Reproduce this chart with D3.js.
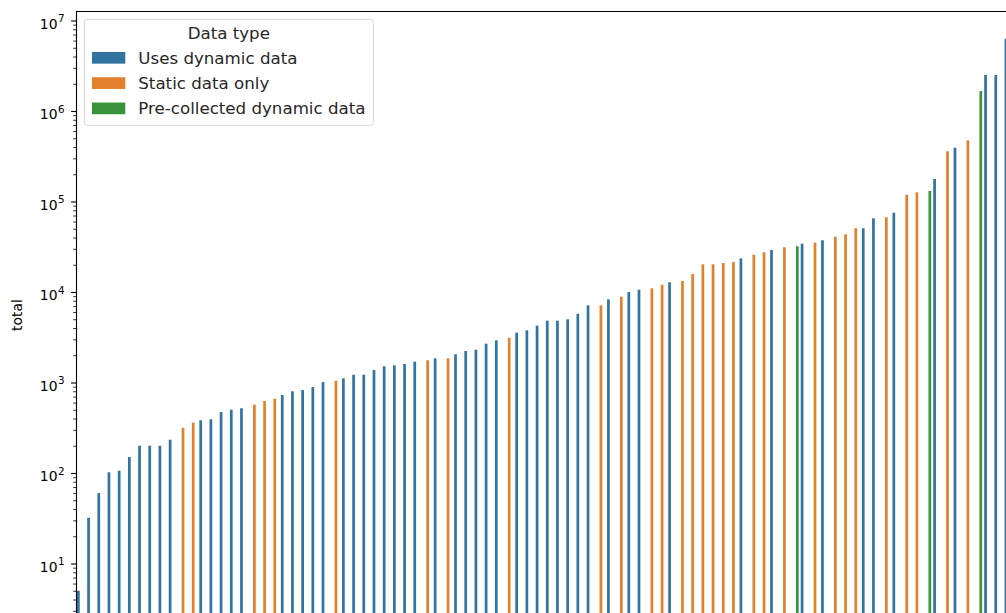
<!DOCTYPE html>
<html>
  <head>
    <meta charset="utf-8">
    <title>Totals by data type</title>
    <script src="https://d3js.org/d3.v7.min.js"></script>
    <style>
      body { margin: 0; overflow: hidden; background: #fff; }
      svg { display: block; font-family: "DejaVu Sans", sans-serif; }
    </style>
  </head>
  <body>

    <div id="chart"></div>

    <script>

      // one bar per project, already sorted by total (x labels are cut off in the crop)
      const totals = [
        5, 32, 60, 102, 106, 150, 200, 200, 200, 233,
        316, 360, 382, 392, 472, 501, 519, 569, 625, 661,
        727, 800, 826, 891, 1010, 1047, 1112, 1219, 1220, 1374,
        1510, 1549, 1600, 1698, 1760, 1850, 1850, 2050, 2230, 2300,
        2685, 2925, 3125, 3550, 3775, 4250, 4820, 4820, 4990, 5750,
        7120, 7120, 8300, 8870, 9990, 10600, 10990, 12050, 12800, 13240,
        15800, 20240, 20240, 20900, 21400, 23500, 25800, 27460, 29130, 31170,
        32000, 34170, 35080, 37260, 40830, 43420, 50610, 50610, 65200, 66860,
        75160, 118800, 126400, 130600, 177400, 359000, 393000, 474000, 1660000, 2500000,
        2500000, 6300000
      ];
      // D = uses dynamic data, S = static data only, P = pre-collected dynamic data
      const dataTypes = [
        'D','D','D','D','D','D','D','D','D','D',
        'S','S','D','D','D','D','D','S','S','S',
        'D','D','D','D','D','S','D','D','D','D',
        'D','D','D','D','S','D','S','D','D','D',
        'D','D','S','D','D','D','D','D','D','D',
        'D','S','D','S','D','D','S','S','D','S',
        'S','S','S','S','S','D','S','S','D','S',
        'P','D','S','D','S','S','S','D','D','S',
        'D','S','S','P','D','S','D','S','P','D',
        'D','D'
      ];
      const typeKeys = ['D', 'S', 'P'];
      const typeLabels = ['Uses dynamic data', 'Static data only', 'Pre-collected dynamic data'];
      const typeColors = ['#3274a1', '#e1812c', '#3a923a'];
      const tickExps = [1, 2, 3, 4, 5, 6, 7];
      const yLabel = 'total';
      const legendTitle = 'Data type';

      const width = 1006;
      const height = 613;
      const margin = { left: 76, top: 11 };
      const axisBottom = 619;      // bottom spine is just below the visible area
      const step = 10.193;         // px per category

      const svg = d3.select('#chart').append('svg')
          .attr('width', width)
          .attr('height', height);

      const xScale = d3.scaleBand()
        .domain(d3.range(totals.length))
        .range([margin.left, margin.left + step * totals.length]);

      // seaborn dodge: 3 hue slots inside 0.8 of the category width
      const hueScale = d3.scaleBand()
        .domain(typeKeys)
        .range([0, xScale.bandwidth()])
        .paddingOuter(0.375);

      const yScale = d3.scaleLog()
        .domain([10, 1e7])
        .range([563.5, 20.5]);

      const colorScale = d3.scaleOrdinal()
        .domain(typeKeys)
        .range(typeColors);

      svg.append('clipPath').attr('id', 'plot-clip')
        .append('rect')
          .attr('x', margin.left)
          .attr('y', margin.top)
          .attr('width', width)
          .attr('height', axisBottom - margin.top);

      const plot = svg.append('g').attr('clip-path', 'url(#plot-clip)');

      plot.selectAll('rect.bar')
        .data(totals)
        .join('rect')
          .attr('class', 'bar')
          .attr('x', (d, i) => xScale(i) + hueScale(dataTypes[i]))
          .attr('y', d => yScale(d))
          .attr('width', hueScale.bandwidth())
          .attr('height', d => axisBottom - yScale(d))
          .attr('fill', (d, i) => colorScale(dataTypes[i]));

      // minor ticks 2..9 x 10^k that fall inside the axes
      const yMin = yScale.invert(axisBottom);
      const minorTicks = [];
      d3.range(0, 7).forEach(k => {
        d3.range(2, 10).forEach(m => {
          const v = m * Math.pow(10, k);
          if (v >= yMin && v <= 1e7) minorTicks.push(v);
        });
      });

      const minorAxisG = svg.append('g')
        .attr('transform', `translate(${margin.left},0)`)
        .call(d3.axisLeft(yScale).tickValues(minorTicks).tickSize(2.8).tickFormat(''));
      minorAxisG.select('.domain').remove();
      minorAxisG.selectAll('line').attr('stroke', '#000').attr('stroke-width', 0.8);

      const yAxisG = svg.append('g')
        .attr('transform', `translate(${margin.left},0)`)
        .call(d3.axisLeft(yScale)
          .tickValues(tickExps.map(e => Math.pow(10, e)))
          .tickSize(4.9)
          .tickPadding(6.5)
          .tickFormat(''));
      yAxisG.select('.domain').remove();
      yAxisG.selectAll('line').attr('stroke', '#000').attr('stroke-width', 1.1);
      yAxisG.selectAll('.tick text')
          .attr('fill', '#000')
          .attr('font-size', '13.9px')
          .attr('font-family', '"DejaVu Sans", sans-serif')
          .attr('dy', '0.55em')
          .each(function(d) {
            const t = d3.select(this);
            t.append('tspan').text('10');
            t.append('tspan')
              .attr('dy', '-0.6em')
              .attr('dx', '0.5')
              .attr('font-size', '10.4px')
              .text(Math.round(Math.log10(d)));
          });

      // spines (only top and left are inside the crop)
      svg.append('line')
          .attr('x1', margin.left + 0.5).attr('x2', margin.left + 0.5)
          .attr('y1', margin.top).attr('y2', axisBottom)
          .attr('stroke', '#000').attr('stroke-width', 1.1);
      svg.append('line')
          .attr('x1', margin.left).attr('x2', width)
          .attr('y1', margin.top + 0.5).attr('y2', margin.top + 0.5)
          .attr('stroke', '#000').attr('stroke-width', 1.1);

      svg.append('text')
          .attr('transform', `translate(22,${(margin.top + axisBottom) / 2}) rotate(-90)`)
          .attr('text-anchor', 'middle')
          .attr('font-size', '13.9px')
          .text(yLabel);

      // legend, upper left
      const legendG = svg.append('g')
        .attr('transform', `translate(${margin.left + 8.3},${margin.top + 8.3})`);

      legendG.append('rect')
          .attr('width', 289)
          .attr('height', 106)
          .attr('rx', 3)
          .attr('fill', 'rgba(255,255,255,0.8)')
          .attr('stroke', '#d6d6d6')
          .attr('stroke-width', 1);

      legendG.append('text')
          .attr('x', 144.5)
          .attr('y', 19.5)
          .attr('text-anchor', 'middle')
          .attr('font-size', '16.67px')
          .attr('fill', '#262626')
          .text(legendTitle);

      const items = legendG.selectAll('g.item')
        .data(typeKeys)
        .join('g')
          .attr('class', 'item')
          .attr('transform', (d, i) => `translate(7.7,${38.5 + i * 25.3})`);

      items.append('rect')
          .attr('y', -5.85)
          .attr('width', 33.3)
          .attr('height', 11.7)
          .attr('fill', d => colorScale(d));

      items.append('text')
          .attr('x', 46.3)
          .attr('y', 6)
          .attr('font-size', '16.67px')
          .attr('fill', '#262626')
          .text((d, i) => typeLabels[i]);

    </script>
  </body>
</html>
